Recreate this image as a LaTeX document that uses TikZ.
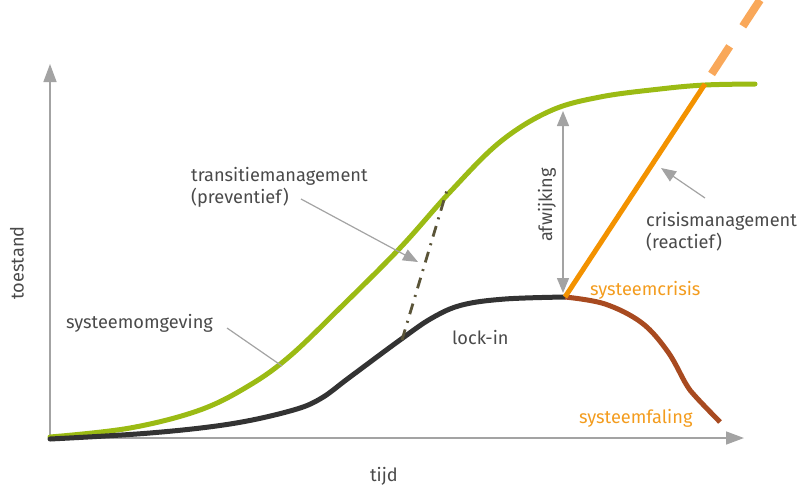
\documentclass[tikz,border=0pt]{standalone}
\usepackage{fontspec}
\setmainfont{Fira Sans}
\usetikzlibrary{arrows.meta}
\definecolor{cgreen}{HTML}{9BBB14}
\definecolor{cblack}{HTML}{333333}
\definecolor{cbrown}{HTML}{A84A20}
\definecolor{corange}{HTML}{F39200}
\definecolor{clorange}{HTML}{F9A85A}
\definecolor{cgray}{HTML}{A3A3A3}
\definecolor{ctext}{HTML}{4A4A4A}
\definecolor{colive}{HTML}{5A5438}
\definecolor{cotext}{HTML}{F39C1E}
\tikzset{
  lbl/.style={font=\fontsize{18.2}{22}\selectfont, text=ctext, inner sep=0pt},
  olbl/.style={font=\fontsize{18.2}{22}\selectfont, text=cotext, inner sep=0pt},
  axis/.style={draw=cgray, line width=1.5pt, -{Triangle[length=18pt,width=13pt]}},
  pointer/.style={draw=cgray, line width=1.2pt, -{Triangle[length=15pt,width=12pt]}},
  curve/.style={line width=5pt, line cap=round, line join=round},
}
\begin{document}
\begin{tikzpicture}[x=1pt,y=-1pt]
\useasboundingbox (0,0) rectangle (802,488);
% axes
\coordinate (O) at (50,438);
\coordinate (ytop) at (50,64);
\coordinate (xend) at (744,438);
\draw[axis] (O) -- (ytop);
\draw[axis] (O) -- (xend);
% green curve
\draw[curve, cgreen] plot[smooth, tension=0.6] coordinates {(50,437) (130,428) (200,410) (250,385) (290,356) (340,308) (400,248) (450,192) (500,142) (550,111) (600,97) (660,89) (705,85) (755,84)};
% black curve
\draw[curve, cblack] plot[smooth, tension=0.6] coordinates {(50,439) (150,433) (230,424) (290,411) (320,399) (350,377) (400,340) (432,318) (462,305) (505,299) (565,297)};
% brown curve
\draw[curve, cbrown, line cap=butt] plot[smooth, tension=0.6] coordinates {(565,297) (605,304) (642,323) (668,352) (686,384) (696,397) (720,422)};
% dash-dot transition
\coordinate (tdA) at (402,340);
\coordinate (tdB) at (447,190);
\draw[colive, line width=2.8pt, dash pattern=on 11pt off 7pt on 2pt off 7pt] (tdA) -- (tdB);
% orange crisis line
\coordinate (crisis) at (565,297);
\coordinate (cross) at (705,84);
\coordinate (beyond) at (760,0);
\draw[corange, line width=5pt] (crisis) -- (cross);
\draw[clorange, line width=8pt, dash pattern=on 33pt off 24pt, dash phase=45pt] (cross) -- (beyond);
% afwijking arrow
\coordinate (afTop) at (563,111);
\coordinate (afBot) at (563,293);
\draw[draw=cgray, line width=1.4pt, {Triangle[length=15pt,width=12pt]}-{Triangle[length=15pt,width=12pt]}] (afBot) -- (afTop);
\node[lbl, rotate=90] (afw) at (547,205) {afwijking};
% labels
\node[lbl, rotate=90] (toestand) at (17,263) {toestand};
\node[lbl] (tijd) at (384,476) {tijd};
\node[lbl, anchor=west] (omg) at (66,323) {systeemomgeving};
\coordinate (omgEnd) at (282,366);
\draw[cgray, line width=1.2pt] (227,328) -- (omgEnd);
\node[lbl, anchor=west, align=left] (trans) at (191,187) {transitiemanagement\\(preventief)};
\coordinate (transTip) at (418,262);
\draw[pointer] (301,199) -- (transTip);
\node[lbl, anchor=west, align=left] (crm) at (646,232) {crisismanagement\\(reactief)};
\coordinate (crmTip) at (661,168);
\draw[pointer] (705,198) -- (crmTip);
\node[lbl, anchor=west] (lock) at (452,338) {lock-in};
\node[olbl, anchor=west] (sc) at (590,290) {systeemcrisis};
\node[olbl, anchor=west] (sf) at (579,418) {systeemfaling};
\end{tikzpicture}
\end{document}
